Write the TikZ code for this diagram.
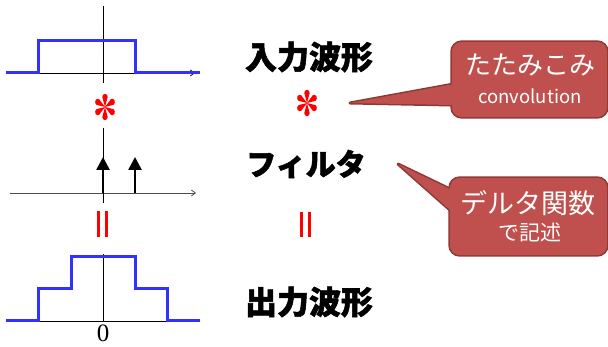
\documentclass[tikz,border=0pt]{standalone}
\usepackage{fontspec}
\setmainfont{Liberation Serif}
\newfontfamily\cjk{Noto Sans CJK JP}[BoldFeatures={FakeBold=1.6}]
\usetikzlibrary{arrows.meta}
\definecolor{wblue}{RGB}{50,50,255}
\definecolor{cfill}{RGB}{192,80,77}
\definecolor{cborder}{RGB}{140,56,54}
\tikzset{
  wave/.style={wblue, line width=3pt, line join=miter},
  axis/.style={black, line width=0.8pt},
  impulse/.style={black, line width=2.6pt, -{Triangle[width=13pt,length=13pt]}},
  biglabel/.style={font=\cjk\bfseries\fontsize{32}{32}\selectfont, inner sep=0pt},
  cbox/.style={rectangle, rounded corners=10pt, fill=cfill, minimum width=#1, inner sep=0pt},
  ctext/.style={text=white, inner sep=0pt},
  redop/.style={red, line width=3pt}
}
\newcommand{\myast}[1]{%
  \begin{scope}[shift={#1}, yscale=1.2]
    \foreach \a in {30,90,150,210,270,330}{
      \fill[red, rotate=\a] (0,0) -- (8.3,-2.7) arc[start angle=-90, end angle=90, radius=2.7] -- cycle;
    }
  \end{scope}}
\begin{document}
\begin{tikzpicture}[x=1pt, y=-1pt]
\fill[white] (0,0) rectangle (608,347);
\useasboundingbox (0,0) rectangle (608,347);

% ---- top waveform
\draw[axis, -{Straight Barb[length=4pt,width=6pt]}] (6,73) -- (195,73);
\draw[axis] (103,6) -- (103,83);
\draw[wave] (6,73) -- (38,73) -- (38,41) -- (135,41) -- (135,73) -- (200,73);

% ---- filter
\draw[axis, gray!60!black, -{Straight Barb[length=4pt,width=6pt]}] (10,193) -- (196,193);
\draw[axis] (103,128) -- (103,203);
\coordinate (i1) at (103,193); \coordinate (i1t) at (103,157);
\coordinate (i2) at (135,193); \coordinate (i2t) at (135,157);
\draw[impulse] (i1) -- (i1t);
\draw[impulse] (i2) -- (i2t);

% ---- bottom waveform
\draw[axis] (103,254) -- (103,321);
\draw[axis] (6,321) -- (200,321);
\draw[wave] (6,321) -- (38,321) -- (38,289) -- (71,289) -- (71,257) -- (135,257) -- (135,289) -- (167,289) -- (167,321) -- (200,321);
\node[font=\fontsize{25}{25}\selectfont, inner sep=0pt] (zero) at (103,333.5) {0};

% ---- operators
\myast{(105,107)}
\myast{(307,103)}
\draw[redop] (98.5,211) -- (98.5,237);
\draw[redop] (106.5,211) -- (106.5,237);
\draw[redop] (301.5,212) -- (301.5,237);
\draw[redop] (309.5,212) -- (309.5,237);

% ---- labels
\node[biglabel] (in) at (309,57) {入力波形};
\node[biglabel, font=\cjk\bfseries\fontsize{30}{30}\selectfont] (filt) at (306,164) {フィルタ};
\node[biglabel] (out) at (309,302) {出力波形};

% ---- callout 1
\node[cbox=155pt, minimum height=75pt] (c1) at (529.5,79.5) {};
\coordinate (t1) at (350,103);
\path[draw=cborder, line width=3pt, rounded corners=10pt] (c1.north west) rectangle (c1.south east);
\path[draw=cborder, line width=3pt, line join=round] (t1) -- (462,82.5) -- (462,105.2) -- cycle;
\fill[cfill, rounded corners=10pt] (c1.north west) rectangle (c1.south east);
\fill[cfill] (t1) -- (462,82.5) -- (462,105.2) -- cycle;
\node[ctext, font=\cjk\fontsize{26}{26}\selectfont] (c1a) at (530,65) {たたみこみ};
\node[ctext, font=\cjk\fontsize{18.5}{18.5}\selectfont] (c1b) at (530,96.5) {convolution};

% ---- callout 2
\node[cbox=157pt, minimum height=77pt] (c2) at (528.5,216.5) {};
\coordinate (t2) at (398,164);
\path[draw=cborder, line width=3pt, rounded corners=10pt] (c2.north west) rectangle (c2.south east);
\path[draw=cborder, line width=3pt, line join=round] (t2) -- (462,194.8) -- (462,220.6) -- cycle;
\fill[cfill, rounded corners=10pt] (c2.north west) rectangle (c2.south east);
\fill[cfill] (t2) -- (462,194.8) -- (462,220.6) -- cycle;
\node[ctext, font=\cjk\fontsize{27}{27}\selectfont] (c2a) at (528,203) {デルタ関数};
\node[ctext, font=\cjk\fontsize{21}{21}\selectfont] (c2b) at (530,232) {で記述};
\end{tikzpicture}
\end{document}
